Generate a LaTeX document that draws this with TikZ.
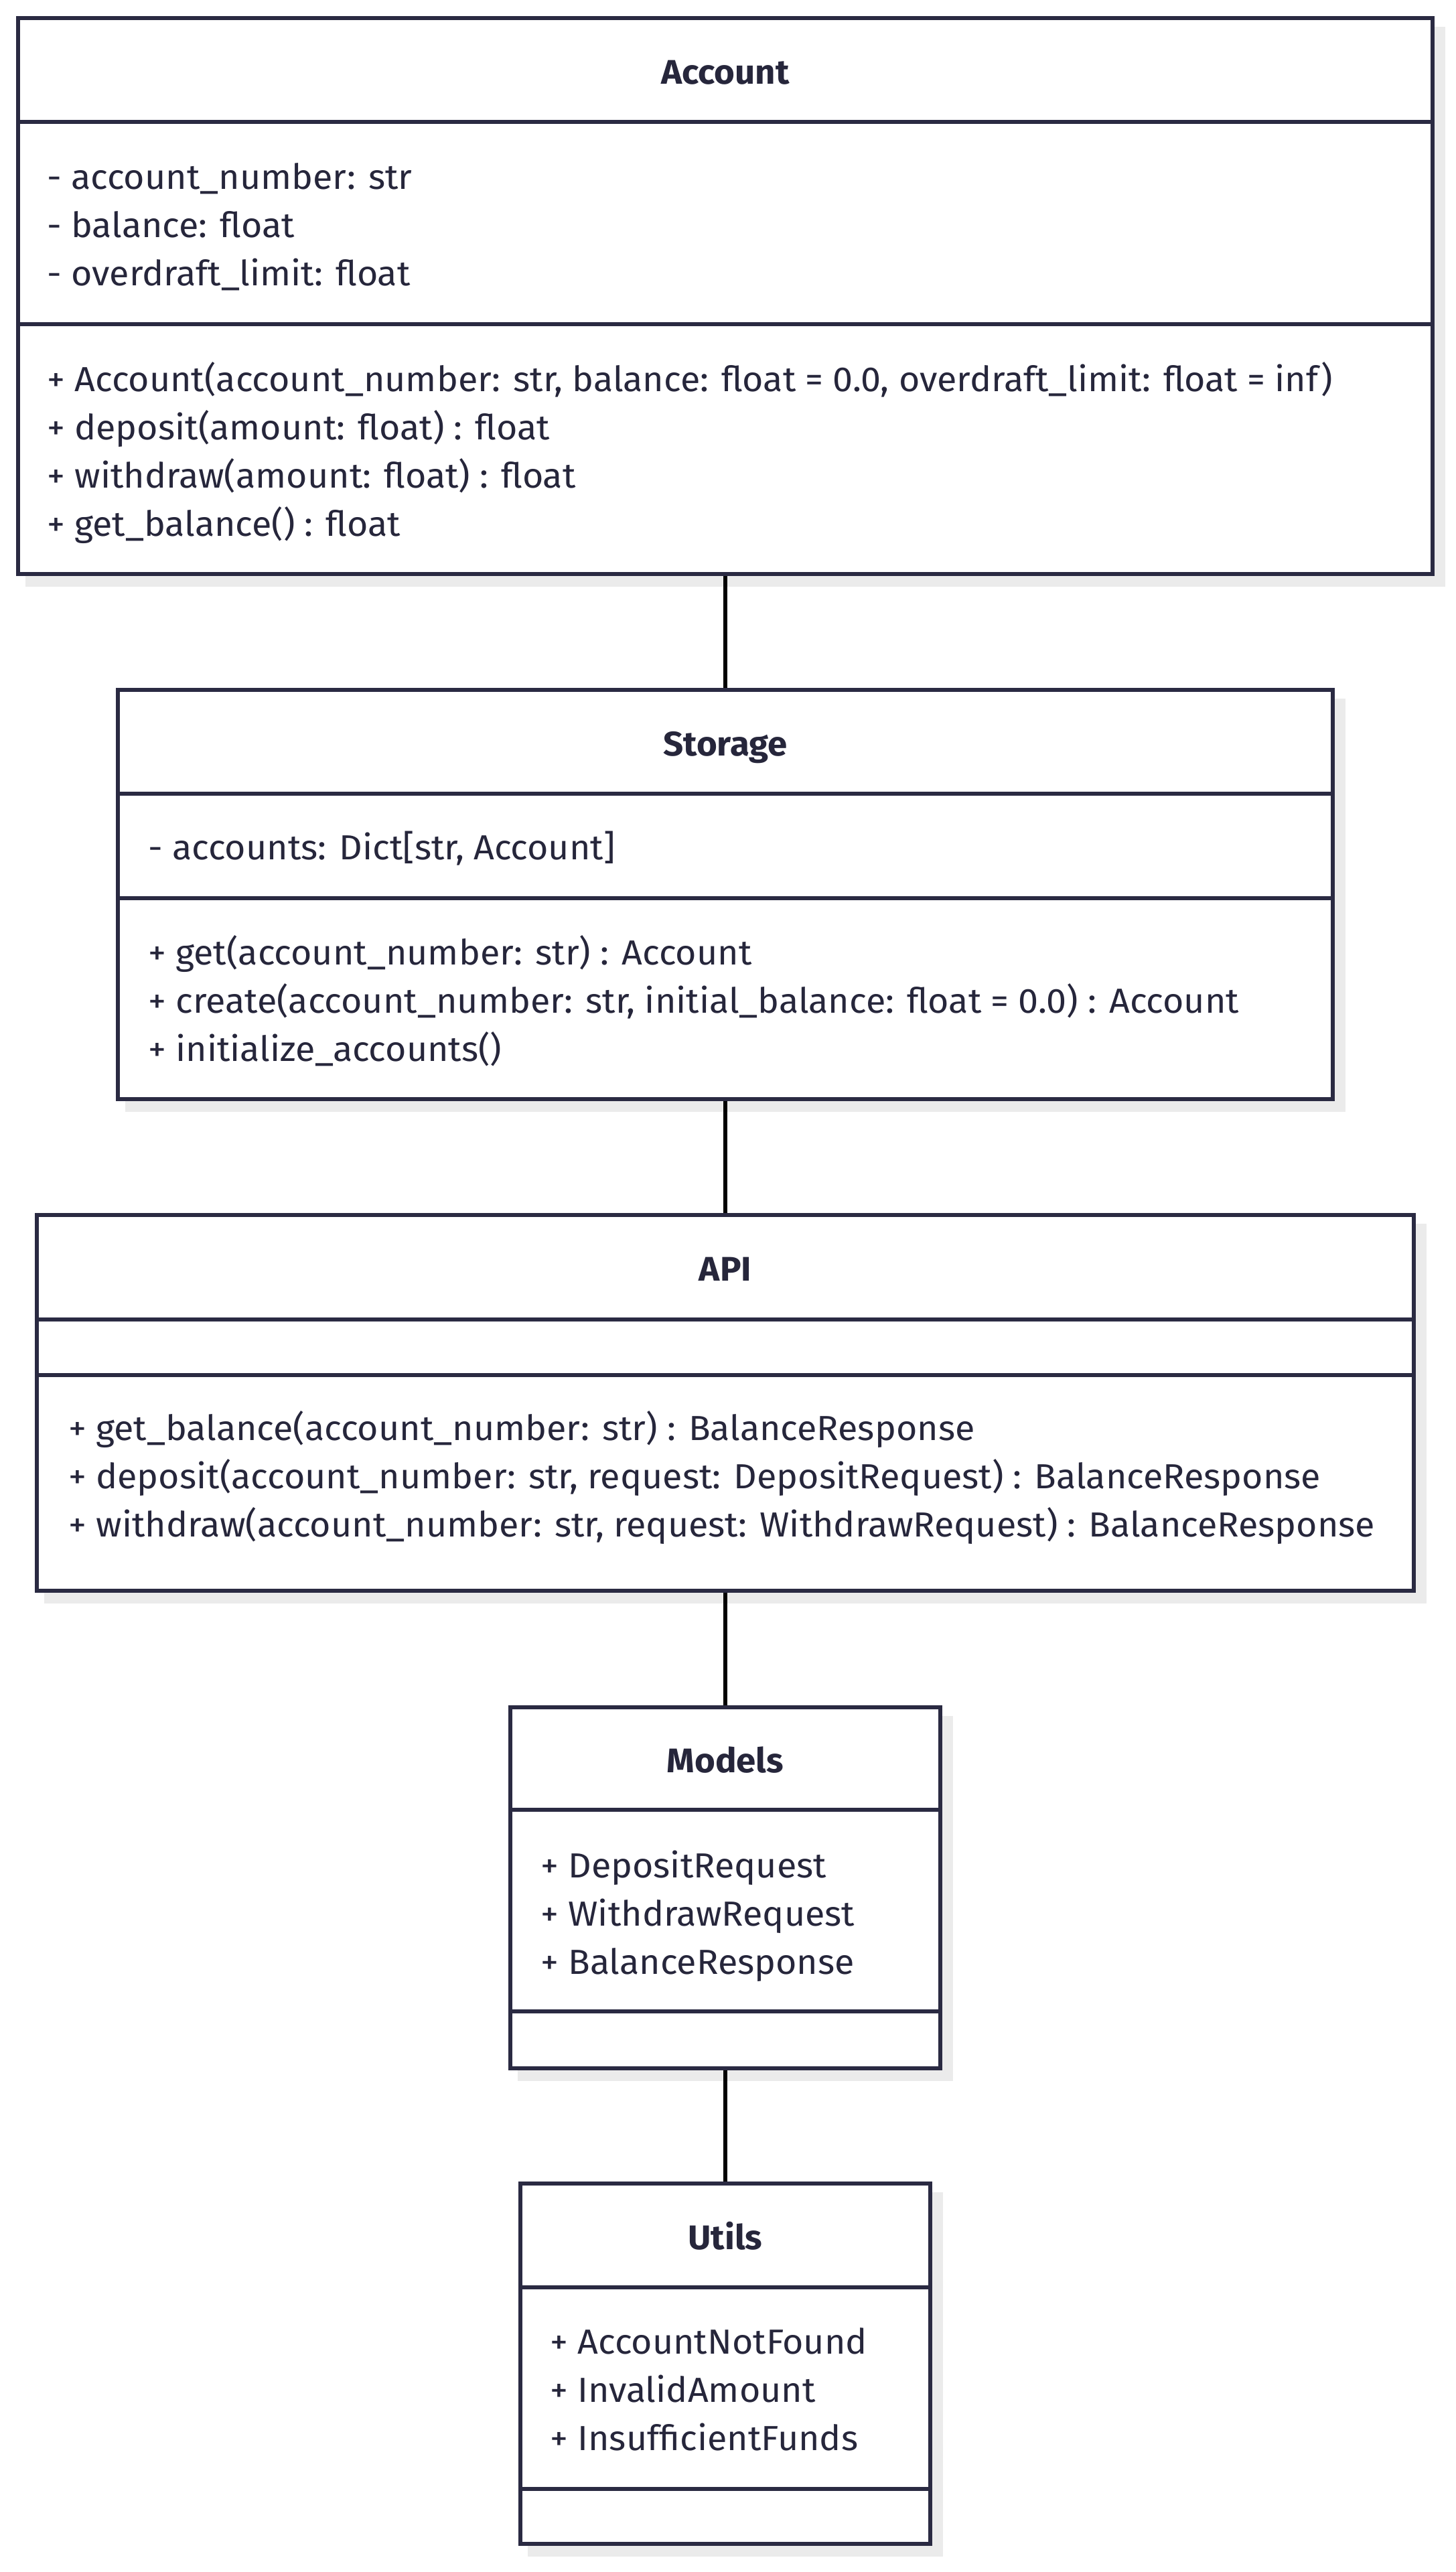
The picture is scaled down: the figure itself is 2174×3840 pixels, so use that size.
\documentclass[tikz,border=0pt]{standalone}
\usepackage{fontspec}
\setmainfont{Fira Sans}[FakeStretch=1.035]
\usetikzlibrary{fit,backgrounds,calc}
\definecolor{ink}{HTML}{26263B}
\definecolor{edge}{HTML}{2A2A42}
\definecolor{shadowgray}{HTML}{EBEBEB}
\begin{document}
\begin{tikzpicture}[x=0.5pt,y=-0.5pt,
  box/.style={draw=edge, line width=3pt, fill=white, inner sep=0pt},
  sepline/.style={draw=edge, line width=3pt},
  link/.style={draw=black, line width=2.8pt},
  boxshadow/.style={fill=shadowgray, draw=none},
  member/.style={anchor=base west, inner sep=0pt, text=ink, font=\fontsize{26}{31}\selectfont},
  ttl/.style={anchor=base, inner sep=0pt, text=ink, font=\bfseries\fontsize{25.5}{31}\selectfont}]
\useasboundingbox (0,0) rectangle (2174,3840);

% boxes
\node[box, fit={(27,27) (2139,857)}] (account) {};
\node[box, fit={(176,1030) (1990,1641)}] (storage) {};
\node[box, fit={(55,1814) (2111,2375)}] (api) {};
\node[box, fit={(762,2549) (1404,3088)}] (models) {};
\node[box, fit={(777,3260) (1389,3798)}] (utils) {};

\begin{pgfonlayer}{background}
\fill[white] (0,0) rectangle (2174,3840);
\foreach \n in {account,storage,api,models,utils}
  \path[boxshadow] ($(\n.south west)+(14,16)$) rectangle ($(\n.north east)+(16,16)$);
\end{pgfonlayer}

% compartments
\draw[sepline] (27,182) -- (2139,182);
\draw[sepline] (27,484) -- (2139,484);
\draw[sepline] (176,1185) -- (1990,1185);
\draw[sepline] (176,1341) -- (1990,1341);
\draw[sepline] (55,1970) -- (2111,1970);
\draw[sepline] (55,2053) -- (2111,2053);
\draw[sepline] (762,2702) -- (1404,2702);
\draw[sepline] (762,3003) -- (1404,3003);
\draw[sepline] (777,3415) -- (1389,3415);
\draw[sepline] (777,3716) -- (1389,3716);

% connectors
\draw[link] (account.south) -- (storage.north);
\draw[link] (storage.south) -- (api.north);
\draw[link] (api.south) -- (models.north);
\draw[link] (models.south) -- (utils.north);

% Account
\node[ttl] (accT) at (1083,125) {Account};
\node[member] (accA1) at (70,282) {- account\_number: str};
\node[member] (accA2) at (70,354) {- balance: float};
\node[member] (accA3) at (70,426) {- overdraft\_limit: float};
\node[member] (accM1) at (70,584) {+ Account(account\_number: str, balance: float = 0.0, overdraft\_limit: float = inf)};
\node[member] (accM2) at (70,656) {+ deposit(amount: float) : float};
\node[member] (accM3) at (70,728) {+ withdraw(amount: float) : float};
\node[member] (accM4) at (70,800) {+ get\_balance() : float};

% Storage
\node[ttl] (stoT) at (1083,1128) {Storage};
\node[member] (stoA1) at (221,1283) {- accounts: Dict[str, Account]};
\node[member] (stoM1) at (221,1440) {+ get(account\_number: str) : Account};
\node[member] (stoM2) at (221,1512) {+ create(account\_number: str, initial\_balance: float = 0.0) : Account};
\node[member] (stoM3) at (221,1584) {+ initialize\_accounts()};

% API
\node[ttl] (apiT) at (1083,1912) {API};
\node[member] (apiM1) at (102,2150) {+ get\_balance(account\_number: str) : BalanceResponse};
\node[member] (apiM2) at (102,2222) {+ deposit(account\_number: str, request: DepositRequest) : BalanceResponse};
\node[member] (apiM3) at (102,2294) {+ withdraw(account\_number: str, request: WithdrawRequest) : BalanceResponse};

% Models
\node[ttl] (modT) at (1083,2646) {Models};
\node[member] (modA1) at (807,2803) {+ DepositRequest};
\node[member] (modA2) at (807,2875) {+ WithdrawRequest};
\node[member] (modA3) at (807,2947) {+ BalanceResponse};

% Utils
\node[ttl] (utiT) at (1083,3358) {Utils};
\node[member] (utiA1) at (821,3514) {+ AccountNotFound};
\node[member] (utiA2) at (821,3586) {+ InvalidAmount};
\node[member] (utiA3) at (821,3658) {+ InsufficientFunds};
\end{tikzpicture}
\end{document}
